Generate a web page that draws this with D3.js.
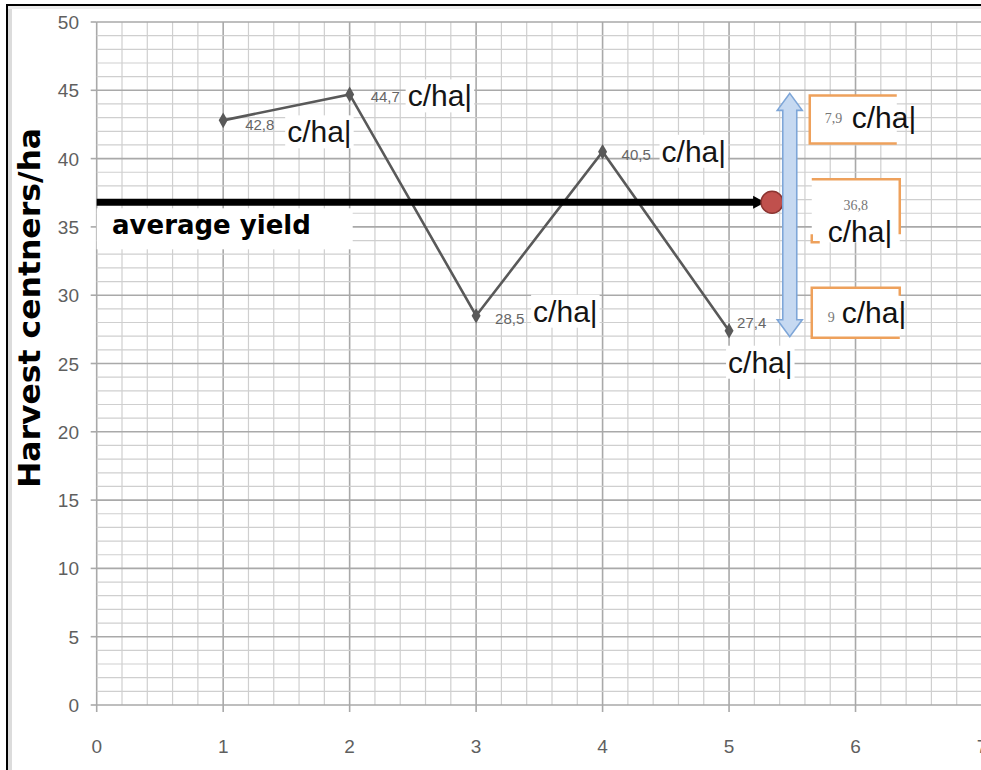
<!DOCTYPE html>
<html>
<head>
<meta charset="utf-8">
<script src="https://cdn.jsdelivr.net/npm/d3@7"></script>
<style>
  body { margin: 0; background: #fff; }
  svg { display: block; }
</style>
</head>
<body>
<div id="chart"></div>
<script>
// data
const xTicks = [0, 1, 2, 3, 4, 5, 6, 7];
const yTicks = [0, 5, 10, 15, 20, 25, 30, 35, 40, 45, 50];
const points = [1, 2, 3, 4, 5];
const yields = [42.8, 44.7, 28.5, 40.5, 27.4];
const pointLabels = ["42,8", "44,7", "28,5", "40,5", "27,4"];
const unitText = "c/ha|";
const avgYield = 36.8;
const avgText = "average yield";
const spreadLabels = ["7,9", "36,8", "9"];
const yTitle = "Harvest centners/ha";

// layout
const width = 981;
const height = 770;
const numOffsets = [[22, 10], [21, 8], [19, 8], [19, 8], [8, -3]];
const unitOffsets = [[64, 22], [58, 12], [57, 6], [59, 10], [-1, 42]];

const svg = d3.select("#chart").append("svg")
  .attr("width", width)
  .attr("height", height);

const x = d3.scaleLinear().domain([0, 7]).range([96.7, 982]);
const y = d3.scaleLinear().domain([0, 50]).range([705, 22]);

// frame
svg.append("rect").attr("x", 8).attr("y", 6).attr("width", 4).attr("height", height).attr("fill", "#dcdcdc");
svg.append("rect").attr("x", 8).attr("y", 6).attr("width", width).attr("height", 3).attr("fill", "#ececec");
svg.append("line").attr("x1", 7).attr("x2", width).attr("y1", 5).attr("y2", 5).attr("stroke", "#000").attr("stroke-width", 2);
svg.append("line").attr("x1", 7).attr("x2", 7).attr("y1", 4).attr("y2", height).attr("stroke", "#000").attr("stroke-width", 2);

// grid
const grid = svg.append("g");
const vMinor = d3.range(0, 7.001, 0.2);
const hMinor = d3.range(0, 50.001, 1);
const isInt = d => Math.abs(d - Math.round(d)) < 1e-6;

grid.selectAll("line.vmin")
  .data(vMinor)
  .join("line")
  .attr("x1", d => x(d)).attr("x2", d => x(d))
  .attr("y1", y(50)).attr("y2", y(0))
  .attr("stroke", d => isInt(d) ? "#a9a9a9" : "#cfcfcf")
  .attr("stroke-width", d => isInt(d) ? 1.6 : 1.2);

grid.selectAll("line.hmin")
  .data(hMinor)
  .join("line")
  .attr("x1", x(0)).attr("x2", width)
  .attr("y1", d => y(d)).attr("y2", d => y(d))
  .attr("stroke", d => d % 5 === 0 ? "#a9a9a9" : "#cfcfcf")
  .attr("stroke-width", d => d % 5 === 0 ? 1.6 : 1.2);

// ticks
grid.selectAll("line.yt")
  .data(yTicks)
  .join("line")
  .attr("x1", x(0) - 6).attr("x2", x(0))
  .attr("y1", d => y(d)).attr("y2", d => y(d))
  .attr("stroke", "#a9a9a9").attr("stroke-width", 1.6);

grid.selectAll("line.xt")
  .data(xTicks)
  .join("line")
  .attr("x1", d => x(d)).attr("x2", d => x(d))
  .attr("y1", y(0)).attr("y2", y(0) + 7)
  .attr("stroke", "#a9a9a9").attr("stroke-width", 1.6);

svg.append("g").selectAll("text")
  .data(yTicks)
  .join("text")
  .attr("x", 79)
  .attr("y", d => y(d) + 7)
  .attr("text-anchor", "end")
  .attr("font-family", "Liberation Sans, Arial, sans-serif")
  .attr("font-size", 19)
  .attr("fill", "#5f5f5f")
  .text(d => d);

svg.append("g").selectAll("text")
  .data(xTicks)
  .join("text")
  .attr("x", d => x(d))
  .attr("y", 753)
  .attr("text-anchor", "middle")
  .attr("font-family", "Liberation Sans, Arial, sans-serif")
  .attr("font-size", 19)
  .attr("fill", "#5f5f5f")
  .text(d => d);

// y title
svg.append("text")
  .attr("transform", `translate(40, ${(128 + 488) / 2}) rotate(-90)`)
  .attr("text-anchor", "middle")
  .attr("font-family", "DejaVu Sans, sans-serif")
  .attr("font-weight", 700)
  .attr("font-size", 31)
  .attr("textLength", 360)
  .attr("lengthAdjust", "spacingAndGlyphs")
  .attr("fill", "#000")
  .text(yTitle);

// series line
const series = points.map((p, i) => ({ x: p, y: yields[i], label: pointLabels[i], i }));

svg.append("path")
  .datum(series)
  .attr("fill", "none")
  .attr("stroke", "#595959")
  .attr("stroke-width", 2.6)
  .attr("d", d3.line().x(d => x(d.x)).y(d => y(d.y)));

svg.selectAll("path.mk")
  .data(series)
  .join("path")
  .attr("class", "mk")
  .attr("transform", d => `translate(${x(d.x)},${y(d.y)})`)
  .attr("d", d3.symbol(d3.symbolDiamond, 70))
  .attr("fill", "#595959");

// helper: text with white box behind
function boxedText(parent, tx, ty, txt, size, opts = {}) {
  const g = parent.append("g");
  const r = g.append("rect").attr("fill", "#fff");
  const t = g.append("text")
    .attr("x", tx).attr("y", ty)
    .attr("font-family", opts.family || "Liberation Sans, Arial, sans-serif")
    .attr("font-weight", opts.weight || 400)
    .attr("font-size", size)
    .attr("fill", opts.fill || "#111")
    .attr("text-anchor", opts.anchor || "start")
    .text(txt);
  if (opts.box !== false) {
    const b = t.node().getBBox();
    const pad = opts.pad || 2;
    r.attr("x", b.x - pad).attr("y", b.y).attr("width", b.width + pad * 2).attr("height", b.height);
  } else {
    r.remove();
  }
  return t;
}

// point value labels
series.forEach(d => {
  const px = x(d.x), py = y(d.y);
  boxedText(svg, px + numOffsets[d.i][0], py + numOffsets[d.i][1], d.label, 15,
    { family: "Liberation Sans Narrow, Liberation Sans, sans-serif", fill: "#666", box: false });
  boxedText(svg, px + unitOffsets[d.i][0], py + unitOffsets[d.i][1], unitText, 30, { fill: "#151515" });
});

// average yield arrow
const avgY = y(avgYield);
const arrowTip = x(5.285);
svg.append("rect")
  .attr("x", x(0)).attr("y", avgY + 6)
  .attr("width", 256).attr("height", 41)
  .attr("fill", "#fff");
svg.append("text")
  .attr("x", 112).attr("y", avgY + 32)
  .attr("font-family", "DejaVu Sans, sans-serif")
  .attr("font-weight", 700)
  .attr("font-size", 26)
  .attr("fill", "#000")
  .text(avgText);

svg.append("line")
  .attr("x1", x(0)).attr("x2", arrowTip - 9)
  .attr("y1", avgY).attr("y2", avgY)
  .attr("stroke", "#000").attr("stroke-width", 7);
svg.append("path")
  .attr("d", `M${arrowTip - 12},${avgY - 6.5} L${arrowTip},${avgY} L${arrowTip - 12},${avgY + 6.5} Z`)
  .attr("fill", "#000");

svg.append("circle")
  .attr("cx", x(5.34)).attr("cy", avgY)
  .attr("r", 11)
  .attr("fill", "#c0504d")
  .attr("stroke", "#8c3431")
  .attr("stroke-width", 1.5);

// spread double arrow
const bx = x(5.48);
const arrTop = y(d3.max(yields)) - 1;
const arrBot = y(d3.min(yields)) + 6;
const hw = 7, hh = 12.5, hl = 17;
svg.append("path")
  .attr("d", `M${bx},${arrTop} L${bx + hh},${arrTop + hl} L${bx + hw},${arrTop + hl} L${bx + hw},${arrBot - hl}
    L${bx + hh},${arrBot - hl} L${bx},${arrBot} L${bx - hh},${arrBot - hl} L${bx - hw},${arrBot - hl}
    L${bx - hw},${arrTop + hl} L${bx - hh},${arrTop + hl} Z`)
  .attr("fill", "#c6d9f1")
  .attr("stroke", "#7ea6d8")
  .attr("stroke-width", 1.6);

// orange annotation boxes
const orange = "#eea15c";
const b1 = { l: bx + 20, r: bx + 107, t: arrTop + 2, b: arrTop + 50 };
const b2 = { l: bx + 22, r: bx + 110, t: avgY - 23, b: avgY + 40 };
const b3 = { l: bx + 22, r: bx + 110, t: arrBot - 49, b: arrBot + 1 };

svg.append("rect").attr("x", b1.l).attr("y", b1.t).attr("width", b1.r - b1.l).attr("height", b1.b - b1.t).attr("fill", "#fff");
svg.append("path")
  .attr("d", `M${b1.r},${b1.t} L${b1.l},${b1.t} L${b1.l},${b1.b} L${b1.r},${b1.b}`)
  .attr("fill", "none").attr("stroke", orange).attr("stroke-width", 2.5);

svg.append("rect").attr("x", b2.l).attr("y", b2.t).attr("width", b2.r - b2.l).attr("height", b2.b - b2.t).attr("fill", "#fff");
svg.append("path")
  .attr("d", `M${b2.l},${b2.t} L${b2.r},${b2.t} L${b2.r},${b2.b - 8} M${b2.l},${b2.b - 8} L${b2.l},${b2.b} L${b2.l + 8},${b2.b}`)
  .attr("fill", "none").attr("stroke", orange).attr("stroke-width", 2.5);

svg.append("rect").attr("x", b3.l).attr("y", b3.t).attr("width", b3.r - b3.l).attr("height", b3.b - b3.t).attr("fill", "#fff");
svg.append("path")
  .attr("d", `M${b3.r},${b3.t + 8} L${b3.r},${b3.t} L${b3.l},${b3.t} L${b3.l},${b3.b} L${b3.r},${b3.b}`)
  .attr("fill", "none").attr("stroke", orange).attr("stroke-width", 2.5);

const small = { family: "Liberation Serif, serif", fill: "#777", box: false };
boxedText(svg, b1.l + 15, b1.t + 28, spreadLabels[0], 14, small);
boxedText(svg, b1.l + 42, b1.t + 33, unitText, 30, { box: false });
boxedText(svg, b2.l + 44, b2.t + 31, spreadLabels[1], 14, Object.assign({ anchor: "middle" }, small));
boxedText(svg, b2.l + 16, b2.b, unitText, 30, { box: false });
boxedText(svg, b3.l + 16, b3.t + 34, spreadLabels[2], 14, small);
boxedText(svg, b3.l + 30, b3.t + 35, unitText, 30, { box: false });
</script>
</body>
</html>
